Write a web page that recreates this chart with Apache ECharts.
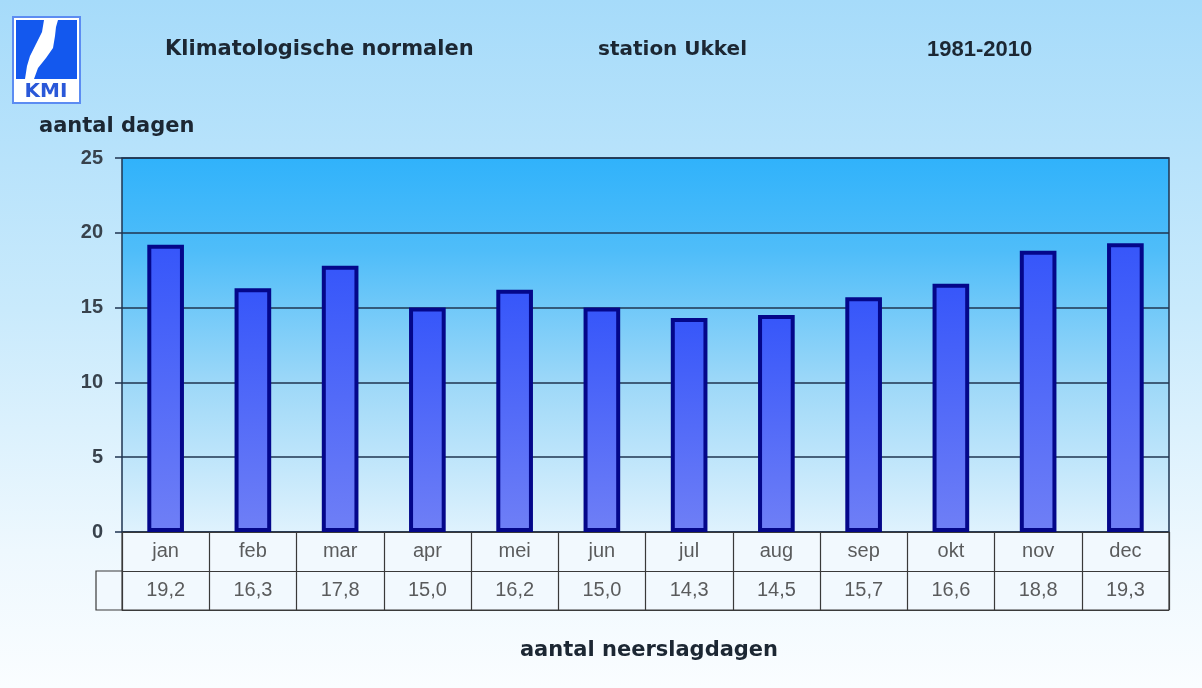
<!DOCTYPE html>
<html>
<head>
<meta charset="utf-8">
<script src="https://cdn.jsdelivr.net/npm/echarts@6/dist/echarts.min.js"></script>
<style>
  html, body { margin: 0; padding: 0; }
  body { width: 1202px; height: 688px; background: linear-gradient(180deg, #a6dbfa 0%, #c9eafc 45%, #eef8fe 80%, #fafdff 100%); }
  #chart { width: 1202px; height: 688px; }
</style>
</head>
<body>
<div id="chart"></div>
<script>
// Monthly number of precipitation days, Ukkel 1981-2010
const months = ['jan', 'feb', 'mar', 'apr', 'mei', 'jun', 'jul', 'aug', 'sep', 'okt', 'nov', 'dec'];
const rainDays = [19.2, 16.3, 17.8, 15.0, 16.2, 15.0, 14.3, 14.5, 15.7, 16.6, 18.8, 19.3];
const yTicks = [0, 5, 10, 15, 20, 25];

const fmt = v => v.toFixed(1).replace('.', ',');

const PLOT = { left: 122, top: 158, width: 1047, height: 374 };
const TABLE = { left: 122, top: 532, width: 1047, height: 78 };
const textCol = '#333333';
const lineCol = '#1f3550';
const headFont = '"DejaVu Sans"';

// table cells: category name in the upper row, value in the lower row
const tableCells = [];
months.forEach((m, i) => {
  tableCells.push({ value: [m, 1.5], label: { formatter: m } });
  tableCells.push({ value: [m, 0.5], label: { formatter: fmt(rainDays[i]) } });
});

const chart = echarts.init(document.getElementById('chart'), null, { renderer: 'canvas' });
chart.setOption({
  backgroundColor: 'transparent',
  animation: false,
  grid: [
    {
      left: PLOT.left, top: PLOT.top, width: PLOT.width, height: PLOT.height,
      show: true, borderColor: lineCol, borderWidth: 1.5,
      backgroundColor: {
        type: 'linear', x: 0, y: 0, x2: 0, y2: 1,
        colorStops: [
          { offset: 0, color: '#30b2fb' },
          { offset: 0.25, color: '#4fbdf9' },
          { offset: 0.6, color: '#9dd8f8' },
          { offset: 1, color: '#dff2fd' }
        ]
      }
    },
    {
      left: TABLE.left, top: TABLE.top, width: TABLE.width, height: TABLE.height,
      show: true, borderColor: '#3a3a3a', borderWidth: 1.2,
      backgroundColor: '#f2f9fe'
    }
  ],
  xAxis: [
    {
      gridIndex: 0, type: 'category', data: months,
      axisLine: { show: false }, axisTick: { show: false }, axisLabel: { show: false }
    },
    {
      gridIndex: 1, type: 'category', data: months,
      axisLine: { show: false }, axisTick: { show: false }, axisLabel: { show: false },
      splitLine: { show: true, interval: 0, lineStyle: { color: '#3a3a3a', width: 1.2 } }
    }
  ],
  yAxis: [
    {
      gridIndex: 0, type: 'value', min: 0, max: 25, interval: 5,
      axisLine: { show: false },
      axisTick: { show: true, length: 7, lineStyle: { color: lineCol, width: 1.5 } },
      axisLabel: {
        margin: 19, color: '#38424c', fontSize: 20, fontWeight: 'bold', fontFamily: 'Liberation Sans, Arial',
        formatter: v => yTicks.includes(v) ? String(v) : ''
      },
      splitLine: { show: true, lineStyle: { color: lineCol, width: 1.5 } }
    },
    {
      gridIndex: 1, type: 'value', min: 0, max: 2, interval: 1,
      axisLine: { show: false }, axisTick: { show: false }, axisLabel: { show: false },
      splitLine: { show: true, lineStyle: { color: '#3a3a3a', width: 1.2 } }
    }
  ],
  series: [
    {
      type: 'bar', xAxisIndex: 0, yAxisIndex: 0,
      data: rainDays,
      barWidth: '42%',
      itemStyle: {
        borderColor: '#04078a', borderWidth: 4,
        color: {
          type: 'linear', x: 0, y: 0, x2: 0, y2: 1,
          colorStops: [
            { offset: 0, color: '#3656fa' },
            { offset: 1, color: '#6f7ff6' }
          ]
        }
      }
    },
    {
      type: 'scatter', xAxisIndex: 1, yAxisIndex: 1,
      symbolSize: 0, silent: true,
      data: tableCells,
      label: {
        show: true, position: 'inside', color: textCol,
        fontSize: 20, fontFamily: 'Liberation Sans, Arial'
      }
    }
  ],
  graphic: [
    // empty leading cell of the value row
    { type: 'rect', shape: { x: 96, y: 571, width: 26, height: 39 },
      style: { fill: '#f2f9fe', stroke: '#3a3a3a', lineWidth: 1.2 }, z: 10 },
    // KMI logo
    { type: 'rect', shape: { x: 13, y: 17, width: 67, height: 86 },
      style: { fill: '#ffffff', stroke: '#5c8cf2', lineWidth: 2 } },
    { type: 'polygon', shape: { points: [[16, 20], [44, 20], [42, 32], [36, 44], [30, 56], [27, 66], [25, 79], [16, 79]] },
      style: { fill: '#1358ee' } },
    { type: 'polygon', shape: { points: [[58, 20], [77, 20], [77, 79], [34, 79], [38, 68], [46, 58], [53, 48], [55, 36], [56, 27]] },
      style: { fill: '#1358ee' } },
    { type: 'text', style: { text: 'KMI', x: 46, y: 92, align: 'center', verticalAlign: 'middle',
      fill: '#2a58d8', font: 'bold 20px "DejaVu Sans"' } },
    // titles
    { type: 'text', style: { text: 'Klimatologische normalen', x: 165, y: 50, verticalAlign: 'middle',
      fill: '#1c2733', font: 'bold 21px ' + headFont } },
    { type: 'text', style: { text: 'station Ukkel', x: 598, y: 50, verticalAlign: 'middle',
      fill: '#1c2733', font: 'bold 20px ' + headFont } },
    { type: 'text', style: { text: '1981-2010', x: 927, y: 50, verticalAlign: 'middle',
      fill: '#1c2733', font: 'bold 22px "Liberation Sans"' } },
    { type: 'text', style: { text: 'aantal dagen', x: 39, y: 127, verticalAlign: 'middle',
      fill: '#1c2733', font: 'bold 21px ' + headFont } },
    { type: 'text', style: { text: 'aantal neerslagdagen', x: 649, y: 651, align: 'center', verticalAlign: 'middle',
      fill: '#1c2733', font: 'bold 21px ' + headFont } }
  ]
});
</script>
</body>
</html>
